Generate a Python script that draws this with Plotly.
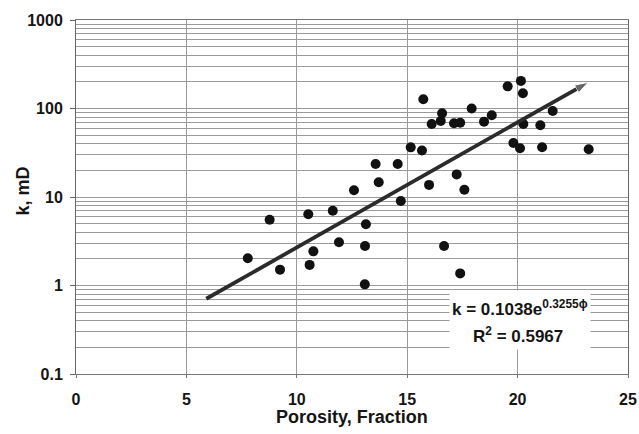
import numpy as np
import plotly.graph_objects as go

# Porosity (%) and permeability k (mD)
porosity = [7.78, 8.77, 9.24, 10.52, 10.58, 10.75, 11.63, 11.91, 12.59, 13.08,
            13.09, 13.13, 13.57, 13.71, 14.57, 14.71, 15.16, 15.67, 15.73, 15.99,
            16.11, 16.52, 16.58, 16.67, 17.12, 17.24, 17.40, 17.40, 17.59, 17.92,
            18.48, 18.83, 19.55, 19.81, 20.11, 20.15, 20.24, 20.26, 21.03, 21.11,
            21.59, 23.22]
perm = [2.03, 5.54, 1.51, 6.38, 1.71, 2.43, 7.0, 3.08, 11.9, 1.03,
        2.8, 4.92, 23.6, 14.7, 23.6, 9.0, 36.4, 33.5, 127, 13.7,
        66.8, 72.2, 88.3, 2.8, 68, 18, 69, 1.37, 12.1, 100,
        71, 83.8, 178, 40.8, 35.5, 205, 149, 66.8, 64.6, 36.5,
        93.7, 34.6]

# Exponential fit k = a*exp(b*phi), drawn over this porosity span
fit_a = 0.1038
fit_b = 0.3255
fit_r2 = 0.5967
fit_span = [5.9, 23.2]

x_ticks = [0, 5, 10, 15, 20, 25]
y_ticks = [0.1, 1, 10, 100, 1000]
y_ticktext = ["0.1", "1", "10", "100", "1000"]

fit_x = np.array(fit_span)
fit_y = fit_a * np.exp(fit_b * fit_x)

FONT = "Liberation Sans, Arial, sans-serif"
GRID = "#9a9a9a"
INK = "#151515"

W, H = 639, 434
ML, MR, MT, MB = 76, 11, 20, 60

fig = go.Figure()
fig.add_trace(go.Scatter(
    x=porosity, y=perm, mode="markers",
    marker=dict(color="#111111", size=10),
    showlegend=False,
))
fig.add_trace(go.Scatter(
    x=fit_x, y=fit_y, mode="lines+markers",
    line=dict(color="#2b2b2b", width=3.8),
    marker=dict(symbol=["circle", "arrow"], size=[0, 14], angleref="previous",
                color="#2b2b2b"),
    showlegend=False,
))

# white box behind the fit equation
fig.add_annotation(
    x=20.09, y=-0.39, xref="x", yref="y",
    text=" ", width=140, height=58,
    showarrow=False, bgcolor="white", borderpad=0,
)
fig.add_annotation(
    x=20.09, y=-0.254, xref="x", yref="y",
    text=f"k = {fit_a}e<sup>{fit_b}ϕ</sup>",
    showarrow=False,
    font=dict(family=FONT, size=17, color=INK, weight="bold"),
)
fig.add_annotation(
    x=20.02, y=-0.559, xref="x", yref="y",
    text=f"R<sup>2</sup> = {fit_r2}",
    showarrow=False,
    font=dict(family=FONT, size=17, color=INK, weight="bold"),
)

# axis titles
fig.add_annotation(
    x=0, y=0.517, xref="paper", yref="paper", xshift=-53.5,
    text="k, mD", textangle=-90, showarrow=False,
    xanchor="center", yanchor="middle",
    font=dict(family=FONT, size=18, color=INK, weight="bold"),
)
fig.add_annotation(
    x=0.5, y=0, xref="paper", yref="paper", yshift=-43,
    text="Porosity, Fraction", showarrow=False,
    xanchor="center", yanchor="middle",
    font=dict(family=FONT, size=18, color=INK, weight="bold"),
)

fig.update_layout(
    width=W, height=H,
    margin=dict(l=ML, r=MR, t=MT, b=MB, autoexpand=False),
    paper_bgcolor="white", plot_bgcolor="white",
    font=dict(family=FONT, color=INK),
    xaxis=dict(
        range=[0, 25], tickvals=x_ticks, automargin=False,
        showgrid=True, gridcolor=GRID, gridwidth=1,
        showline=True, linecolor="#777777", linewidth=1, mirror=True,
        ticks="outside", ticklen=3, tickcolor="#777777",
        ticklabelstandoff=8, ticklabeloverflow="allow",
        zeroline=False,
        tickfont=dict(family=FONT, size=16, color=INK, weight="bold"),
    ),
    yaxis=dict(
        type="log", range=[-1, 3], tickvals=y_ticks, ticktext=y_ticktext,
        automargin=False,
        showgrid=True, gridcolor=GRID, gridwidth=1,
        minor=dict(showgrid=True, gridcolor=GRID, gridwidth=1, dtick="D1", ticks=""),
        showline=True, linecolor="#666666", linewidth=1, mirror=True,
        ticks="outside", ticklen=5, tickcolor="#666666",
        ticklabelstandoff=4,
        tickfont=dict(family=FONT, size=16, color=INK, weight="bold"),
    ),
)

fig.write_html(
    "out.html",
    config={"displayModeBar": False},
    post_script=("document.body.style.margin='0';"
                 "document.documentElement.style.overflow='hidden';"),
)
